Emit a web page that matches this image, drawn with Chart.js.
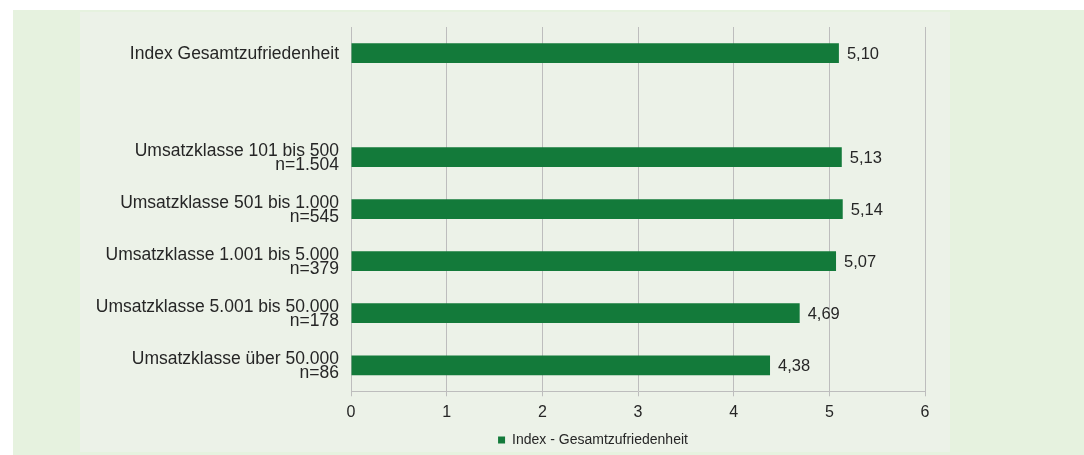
<!DOCTYPE html>
<html>
<head>
<meta charset="utf-8">
<title>Index Gesamtzufriedenheit nach Umsatzklasse</title>
<script src="https://cdn.jsdelivr.net/npm/chart.js@4.4.1/dist/chart.umd.min.js"></script>
<style>
  html, body { margin: 0; padding: 0; background: #fff; }
  #sheet { position: absolute; left: 13px; top: 10px; width: 1071px; height: 445px; background: #e6f2df; }
  #panel { position: absolute; left: 80px; top: 12px; width: 870px; height: 440px; background: #ecf2e8; }
  #box { position: absolute; left: 0; top: 0; width: 1084px; height: 455px; }
</style>
</head>
<body>
<div id="sheet"></div>
<div id="panel"></div>
<div id="box"><canvas id="chart"></canvas></div>
<script>
// rows of the chart; the second slot stays empty as a spacer
var categories = [
  'Index Gesamtzufriedenheit',
  '',
  ['Umsatzklasse 101 bis 500', 'n=1.504'],
  ['Umsatzklasse 501 bis 1.000', 'n=545'],
  ['Umsatzklasse 1.001 bis 5.000', 'n=379'],
  ['Umsatzklasse 5.001 bis 50.000', 'n=178'],
  ['Umsatzklasse über 50.000', 'n=86']
];
var indexValues = [5.10, null, 5.13, 5.14, 5.07, 4.69, 4.38];
var xTicks = [0, 1, 2, 3, 4, 5, 6];
var seriesName = 'Index - Gesamtzufriedenheit';

var barGreen = '#137a3a';
var gridGrey = '#bdbdbd';
var textColor = '#262626';

Chart.defaults.font.family = '"Liberation Sans", Arial, sans-serif';
Chart.defaults.font.size = 16;
Chart.defaults.color = textColor;

// german number format next to each bar
var valueLabels = {
  id: 'valueLabels',
  afterDatasetsDraw: function (chart) {
    var ctx = chart.ctx;
    var meta = chart.getDatasetMeta(0);
    ctx.save();
    ctx.font = '16.5px "Liberation Sans", Arial, sans-serif';
    ctx.fillStyle = textColor;
    ctx.textBaseline = 'middle';
    meta.data.forEach(function (bar, i) {
      var v = indexValues[i];
      if (v == null) return;
      ctx.fillText(v.toFixed(2).replace('.', ','), bar.x + 8, bar.y + 1);
    });
    ctx.restore();
  }
};

// legend is centred over the whole panel, not just the left part
var legendSpan = {
  id: 'legendSpan',
  afterLayout: function (chart) {
    chart.legend.left = 102;
    chart.legend.right = chart.width;
  }
};

var ctx = document.getElementById('chart').getContext('2d');

var chart = new Chart(ctx, {
  type: 'bar',
  data: {
    labels: categories,
    datasets: [{
      label: seriesName,
      data: indexValues,
      backgroundColor: barGreen,
      borderWidth: 0,
      categoryPercentage: 1,
      barPercentage: 0.38
    }]
  },
  options: {
    indexAxis: 'y',
    responsive: true,
    maintainAspectRatio: false,
    animation: false,
    events: [],
    layout: {
      padding: { top: 27, right: 159, bottom: -2, left: 0 }
    },
    scales: {
      x: {
        min: 0,
        max: 6,
        afterBuildTicks: function (scale) {
          scale.ticks = xTicks.map(function (v) { return { value: v }; });
        },
        ticks: { padding: 7, color: textColor, font: { size: 16 } },
        grid: { color: gridGrey, tickLength: 5 },
        border: { color: gridGrey }
      },
      y: {
        afterFit: function (scale) { scale.width = 351; },
        ticks: { padding: 12, labelOffset: 1, color: textColor, font: { size: 17.5, lineHeight: 0.83 } },
        grid: { display: false, drawTicks: false },
        border: { color: gridGrey }
      }
    },
    plugins: {
      legend: {
        position: 'bottom',
        labels: {
          boxWidth: 7,
          boxHeight: 7,
          padding: 3.5,
          color: textColor,
          font: { size: 14 }
        }
      },
      tooltip: { enabled: false }
    }
  },
  plugins: [valueLabels, legendSpan]
});
</script>
</body>
</html>
